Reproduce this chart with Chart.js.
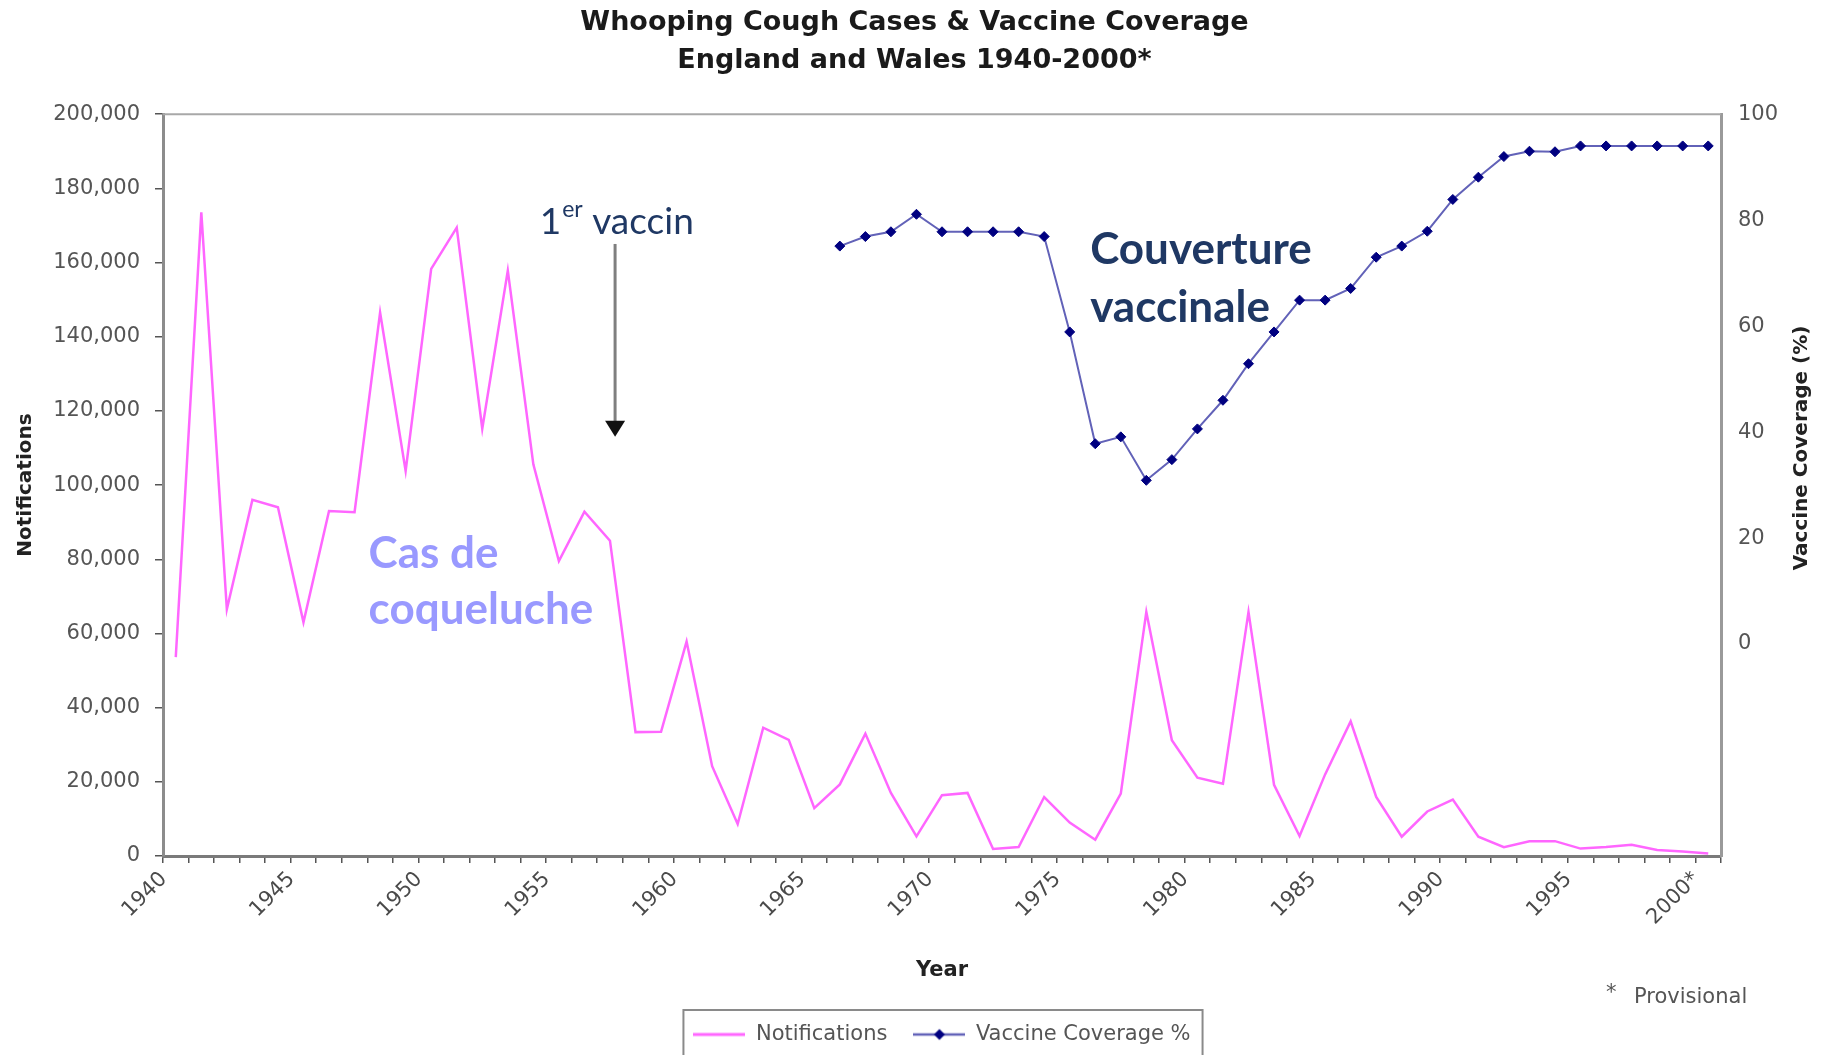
<!DOCTYPE html>
<html>
<head>
<meta charset="utf-8">
<title>Whooping Cough Cases & Vaccine Coverage</title>
<script src="https://cdn.jsdelivr.net/npm/chart.js@4.4.1/dist/chart.umd.min.js"></script>
<style>
  html, body { margin: 0; padding: 0; background: #fff; }
  #wrap { width: 1829px; height: 1055px; position: relative; }
</style>
</head>
<body>
<div id="wrap"><canvas id="myChart1"></canvas></div>
<script>
// values
var years = [
  "1940", "1941", "1942", "1943", "1944", "1945", "1946", "1947", "1948", "1949",
  "1950", "1951", "1952", "1953", "1954", "1955", "1956", "1957", "1958", "1959",
  "1960", "1961", "1962", "1963", "1964", "1965", "1966", "1967", "1968", "1969",
  "1970", "1971", "1972", "1973", "1974", "1975", "1976", "1977", "1978", "1979",
  "1980", "1981", "1982", "1983", "1984", "1985", "1986", "1987", "1988", "1989",
  "1990", "1991", "1992", "1993", "1994", "1995", "1996", "1997", "1998", "1999",
  "2000"
];

var notifications = [
  53600, 173500, 66500, 96000, 94000, 63000, 93000, 92700, 146500, 103800,
  158300, 169400, 115200, 157800, 105600, 79500, 92800, 85000, 33400, 33500,
  57800, 24200, 8600, 34600, 31300, 12900, 19300, 33000, 17000, 5300,
  16400, 17000, 1900, 2400, 15900, 9000, 4400, 16800, 65800, 31200,
  21100, 19500, 65800, 19200, 5400, 22000, 36300, 15900, 5200, 12000,
  15200, 5200, 2400, 4000, 4000, 2000, 2400, 3000, 1600, 1200,
  700
];

// vaccine coverage (%) starts in 1966
var coverageFrom = 1966;
var coverage = [
  75.1, 76.9, 77.8, 81.1, 77.8, 77.8, 77.8, 77.8, 76.9, 58.9,
  37.8, 39.1, 30.9, 34.8, 40.6, 46.0, 52.9, 58.9, 64.9, 64.9,
  67.1, 73.0, 75.1, 77.9, 83.9, 88.1, 92.0, 93.0, 92.9, 94.0,
  94.0, 94.0, 94.0, 94.0, 94.0
];

var xTickLabels = ["1940", "1945", "1950", "1955", "1960", "1965", "1970",
                   "1975", "1980", "1985", "1990", "1995", "2000*"];
var notifTicks = [0, 20000, 40000, 60000, 80000, 100000, 120000, 140000, 160000, 180000, 200000];
var coverageTicks = [0, 20, 40, 60, 80, 100];

var sans = "DejaVu Sans";
var navy = "#1f3864";

function swatch(lineColor, lineWidth, marker) {
  var c = document.createElement("canvas");
  c.width = 52; c.height = 14;
  var g = c.getContext("2d");
  g.strokeStyle = lineColor; g.lineWidth = lineWidth;
  g.beginPath(); g.moveTo(0, 7); g.lineTo(52, 7); g.stroke();
  if (marker) {
    g.fillStyle = marker;
    g.beginPath(); g.moveTo(26, 1.5); g.lineTo(31.5, 7); g.lineTo(26, 12.5); g.lineTo(20.5, 7);
    g.closePath(); g.fill();
  }
  return c;
}
var swatches = [swatch("#ff66ff", 3), swatch("#6262b8", 2.5, "#000080")];

// texts, arrow, frame and legend box drawn on top of the chart
var extras = {
  id: "extras",
  afterDraw: function (chart) {
    var ctx = chart.ctx, a = chart.chartArea;
    var x = chart.scales.x, y = chart.scales.y, y1 = chart.scales.y1;
    ctx.save();

    // top edge of the plot frame
    ctx.strokeStyle = "#a8a8a8"; ctx.lineWidth = 2;
    ctx.beginPath(); ctx.moveTo(a.left, a.top); ctx.lineTo(a.right, a.top); ctx.stroke();

    // right axis title, reading upwards
    ctx.save();
    ctx.translate(chart.width - 27, y1.getPixelForValue(37));
    ctx.rotate(-Math.PI / 2);
    ctx.font = "bold 20px " + sans; ctx.fillStyle = "#222";
    ctx.textAlign = "center"; ctx.textBaseline = "middle";
    ctx.fillText("Vaccine Coverage (%)", 0, 0);
    ctx.restore();

    // "1er vaccin" + arrow
    ctx.textBaseline = "middle"; ctx.textAlign = "left";
    ctx.fillStyle = navy;
    var tx = x.getPixelForValue(14.25), ty = y.getPixelForValue(171000);
    ctx.font = "37px Lato";
    ctx.fillText("1", tx, ty);
    tx += ctx.measureText("1").width + 1;
    ctx.font = "23px Lato";
    ctx.fillText("er", tx, ty - 12);
    tx += ctx.measureText("er").width;
    ctx.font = "37px Lato";
    ctx.fillText(" vaccin", tx, ty);

    var ax = x.getPixelForValue(17.2), aTop = y.getPixelForValue(165000), aTip = y.getPixelForValue(113000);
    ctx.strokeStyle = "#7f7f7f"; ctx.lineWidth = 3;
    ctx.beginPath(); ctx.moveTo(ax, aTop); ctx.lineTo(ax, aTip - 14); ctx.stroke();
    ctx.fillStyle = "#111";
    ctx.beginPath(); ctx.moveTo(ax - 10, aTip - 16); ctx.lineTo(ax + 10, aTip - 16); ctx.lineTo(ax, aTip);
    ctx.closePath(); ctx.fill();

    // series captions
    ctx.font = "bold 44px Lato";
    ctx.fillStyle = "#9999ff";
    var cx = x.getPixelForValue(7.55);
    ctx.fillText("Cas de", cx, y.getPixelForValue(81400));
    ctx.fillText("coqueluche", cx, y.getPixelForValue(66300));
    ctx.fillStyle = navy;
    var vx = x.getPixelForValue(35.8);
    ctx.fillText("Couverture", vx, y.getPixelForValue(163300));
    ctx.fillText("vaccinale", vx, y.getPixelForValue(147700));

    // footnote
    ctx.font = "21px " + sans; ctx.fillStyle = "#555";
    ctx.fillText("*", 1606, 994);
    ctx.fillText("Provisional", 1634, 998);

    // legend frame
    var boxes = chart.legend.legendHitBoxes;
    if (boxes && boxes.length) {
      var l = Infinity, r = -Infinity;
      boxes.forEach(function (b) { l = Math.min(l, b.left); r = Math.max(r, b.left + b.width); });
      ctx.strokeStyle = "#8a8a8a"; ctx.lineWidth = 2;
      ctx.strokeRect(l - 10, chart.legend.top + 12, r - l + 22, 60);
    }
    ctx.restore();
  }
};

var ctx = document.getElementById("myChart1").getContext("2d");
var chart = new Chart(ctx, {
  type: "line",
  data: {
    labels: years,
    datasets: [
      {
        label: "Notifications",
        data: notifications,
        yAxisID: "y",
        borderColor: "#ff66ff",
        backgroundColor: "#ff66ff",
        borderWidth: 2.5,
        pointRadius: 0,
        tension: 0
      },
      {
        label: "Vaccine Coverage %",
        data: coverage.map(function (v, i) { return { x: String(coverageFrom + i), y: v }; }),
        yAxisID: "y1",
        borderColor: "#6262b8",
        backgroundColor: "#000080",
        borderWidth: 2,
        pointStyle: "rectRot",
        pointRadius: 5,
        pointBackgroundColor: "#000080",
        pointBorderColor: "#000080",
        pointBorderWidth: 1,
        tension: 0
      }
    ]
  },
  options: {
    responsive: true,
    maintainAspectRatio: false,
    animation: false,
    devicePixelRatio: 1,
    layout: { padding: 0 },
    plugins: {
      title: {
        display: true,
        text: ["Whooping Cough Cases & Vaccine Coverage", "England and Wales 1940-2000*"],
        color: "#1a1a1a",
        font: { family: sans, size: 27, weight: "bold", lineHeight: 1.41 },
        padding: { top: 4, bottom: 34 }
      },
      legend: {
        position: "bottom",
        fullSize: false,
        labels: {
          usePointStyle: true,
          pointStyleWidth: 52,
          padding: 26,
          color: "#555",
          font: { family: sans, size: 21 },
          generateLabels: function (chart) {
            var items = Chart.defaults.plugins.legend.labels.generateLabels(chart);
            items.forEach(function (it, i) { it.pointStyle = swatches[i]; });
            return items;
          }
        }
      },
      tooltip: { enabled: false }
    },
    scales: {
      x: {
        type: "category",
        offset: true,
        grid: { offset: true, drawOnChartArea: false, drawTicks: true, tickLength: 7, color: "#555", lineWidth: 1.5 },
        border: { color: "#7a7a7a", width: 3 },
        ticks: {
          autoSkip: false,
          minRotation: 45,
          maxRotation: 45,
          padding: 4,
          labelOffset: -12,
          color: "#4a4a4a",
          font: { family: sans, size: 21 },
          callback: function (v, i) { return i % 5 === 0 ? xTickLabels[i / 5] : ""; }
        },
        title: {
          display: true,
          text: "Year",
          color: "#222",
          font: { family: sans, size: 21, weight: "bold" },
          padding: { top: 0, bottom: 15 }
        },
        afterFit: function (s) { s.height = 142; }
      },
      y: {
        position: "left",
        min: 0,
        max: 200000,
        afterBuildTicks: function (s) { s.ticks = notifTicks.map(function (v) { return { value: v }; }); },
        grid: { drawOnChartArea: false, drawTicks: true, tickLength: 8, color: "#555", lineWidth: 1.5 },
        border: { color: "#8c8c8c", width: 3 },
        ticks: {
          padding: 15,
          color: "#555",
          font: { family: sans, size: 21 },
          callback: function (v) { return v.toLocaleString("en-US"); }
        },
        title: {
          display: true,
          text: "Notifications",
          color: "#222",
          font: { family: sans, size: 20, weight: "bold" },
          padding: { top: 14, bottom: 0 }
        },
        afterFit: function (s) { s.width = 163; }
      },
      y1: {
        position: "right",
        min: -40,
        max: 100,
        afterBuildTicks: function (s) { s.ticks = coverageTicks.map(function (v) { return { value: v }; }); },
        grid: { display: false, drawTicks: false },
        border: { color: "#9a9a9a", width: 3 },
        ticks: {
          padding: 17,
          color: "#555",
          font: { family: sans, size: 21 }
        },
        afterFit: function (s) { s.width = 108; }
      }
    }
  },
  plugins: [extras]
});
</script>
</body>
</html>
